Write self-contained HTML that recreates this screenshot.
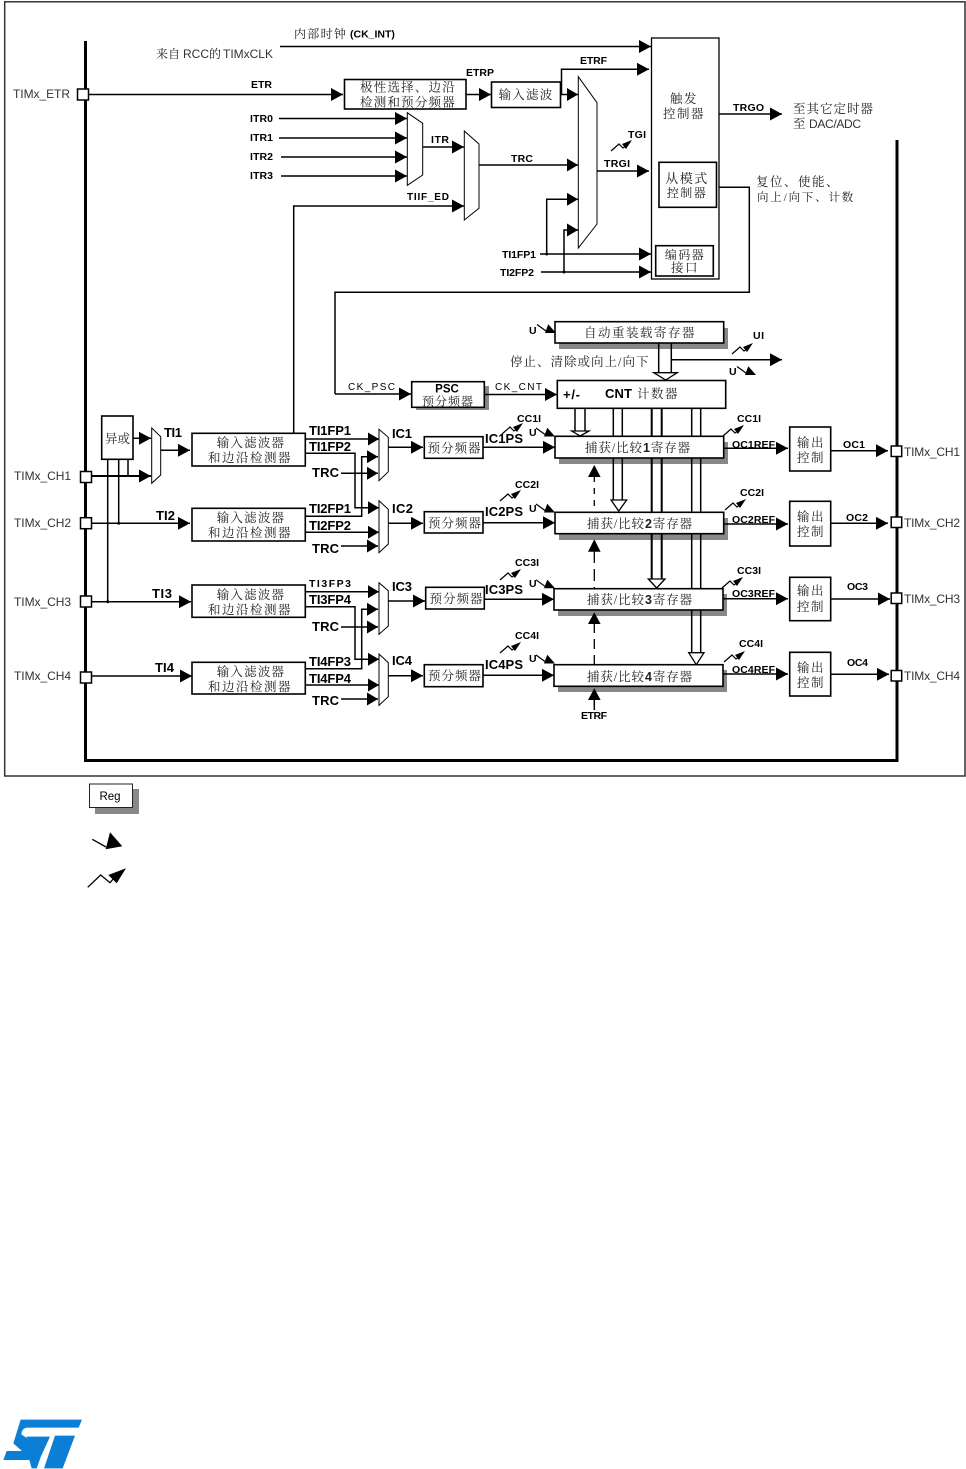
<!DOCTYPE html>
<html>
<head>
<meta charset="utf-8">
<style>
html,body{margin:0;padding:0;background:#fff}
svg{display:block}
.l{fill:none;stroke:#000;stroke-width:1.5}
.a{fill:none;stroke:#000;stroke-width:1.5;marker-end:url(#a)}
.s{fill:none;stroke:#000;stroke-width:1.5;marker-end:url(#b)}
.b{fill:#fff;stroke:#000;stroke-width:1.6}
.m{fill:#fff;stroke:#000;stroke-width:1}
.sh{fill:#888;stroke:none}
.p{fill:#fff;stroke:#000;stroke-width:1.5}
text{font-family:"Liberation Sans","Noto Sans CJK SC",sans-serif;fill:#000}
.c{font-family:"Liberation Serif","Noto Serif CJK SC",serif;font-size:12.5px;letter-spacing:1.5px;fill:#222}
.t{font-size:12px;fill:#333}
.n{font-weight:bold;font-size:10.5px}
.k{font-weight:bold;font-size:13px}
.e{font-weight:bold;font-size:13px}
.mid{text-anchor:middle}
</style>
</head>
<body>
<svg width="966" height="1469" viewBox="0 0 966 1469" xmlns="http://www.w3.org/2000/svg">
<defs>
<marker id="a" viewBox="0 0 12 13" refX="12" refY="6.5" markerWidth="12" markerHeight="13" markerUnits="userSpaceOnUse" orient="auto"><path d="M0,0L12,6.5L0,13Z" fill="#000"/></marker>
<marker id="b" viewBox="0 0 11 13" refX="11" refY="6.5" markerWidth="11" markerHeight="13" markerUnits="userSpaceOnUse" orient="auto"><path d="M0,0L11,6.5L0,13Z" fill="#000"/></marker>
<g id="irq"><path d="M0,11L8,4L12,8L15,6" fill="none" stroke="#000" stroke-width="1.2"/><path d="M21,0L11,4L15,9Z" fill="#000"/></g>
<g id="u"><path d="M-19,-8.5L-10,-2" fill="none" stroke="#000" stroke-width="1.2"/><path d="M-7.7,-8.7L0,0L-11,0Z" fill="#000"/></g>
</defs>

<!-- frame -->
<rect x="4.7" y="1.8" width="960.3" height="774.2" fill="none" stroke="#333" stroke-width="1.5"/>
<!-- bus -->
<path d="M85.5,41V760.5H897V140" fill="none" stroke="#000" stroke-width="3"/>

<!-- shadows -->
<rect class="sh" x="559" y="328" width="169" height="21"/>
<rect class="sh" x="416" y="386" width="73" height="24"/>
<rect class="sh" x="559" y="442" width="169" height="22"/>
<rect class="sh" x="559" y="518" width="169" height="22"/>
<rect class="sh" x="558" y="594" width="169" height="22"/>
<rect class="sh" x="558" y="670" width="169" height="22"/>

<!-- top lines -->
<path class="a" d="M280,46.5H651"/>
<path class="a" d="M88,94.5H343"/>
<path class="a" d="M466,94.5H491"/>
<path class="s" d="M561,94.5H578"/>
<path class="a" d="M561.5,94V69.3H649"/>
<path class="a" d="M279,118.5H407"/>
<path class="a" d="M279,138H407"/>
<path class="a" d="M281,157H407"/>
<path class="a" d="M281,176H407"/>
<path class="a" d="M423,147H464"/>
<path class="a" d="M293.7,433V206H464"/>
<path class="s" d="M479,165H578"/>
<path class="a" d="M597,171H649"/>
<path class="a" d="M540,254H651"/>
<path class="a" d="M541,272H651"/>
<path class="s" d="M546.7,254V199.3H578"/>
<path class="s" d="M564,272V230H578"/>
<circle cx="546.7" cy="254" r="1.5"/><circle cx="564" cy="272" r="1.5"/>
<path class="a" d="M719,114H782" stroke-width="2"/>
<path class="l" d="M716,187.3H749.3V292.3H335V394"/>
<path class="a" d="M335,394H411"/>
<path class="a" d="M484,394.5H557"/>
<path class="a" d="M671,359.7H782"/>

<!-- muxes -->
<path class="m" d="M407.3,112.7L422.7,123.3V175L407.3,185.3Z"/>
<path class="m" d="M464.3,131L479,144V208.3L464.3,220Z"/>
<path class="m" d="M578.3,76.7L597,102.7V224L578.3,248Z"/>
<path class="m" d="M151.7,428L160.7,436.7V475L151.7,483.3Z"/>
<path class="m" d="M379,429.3L388.3,437.3V471.7L379,480.7Z"/>
<path class="m" d="M379,500.7L388.3,509.3V544L379,552.7Z"/>
<path class="m" d="M379,582.7L388.3,590.7V626L379,634.3Z"/>
<path class="m" d="M379,654L388.3,662.7V696.7L379,705.3Z"/>

<!-- buses to registers -->
<path d="M658.7,343V373M671.3,343V373" class="l"/>
<path d="M653.7,372.7H677.3L665.7,380Z" fill="#fff" stroke="#000" stroke-width="1.3"/>
<path d="M575,408V431M585,408V431" class="l"/>
<path d="M571.7,431H589L580.3,436Z" fill="#fff" stroke="#000" stroke-width="1.3"/>
<path d="M613.3,408V500M622.3,408V500" class="l"/>
<path d="M611,500H626.7L618.7,511Z" fill="#fff" stroke="#000" stroke-width="1.3"/>
<path d="M651.7,408V579M661.7,408V579" class="l" style="stroke-width:2"/>
<path d="M648.3,579H665L656.7,588Z" fill="#fff" stroke="#000" stroke-width="1.3"/>
<path d="M691.7,408V653M700.7,408V653" class="l"/>
<path d="M688.7,652.7H704L696.3,664.7Z" fill="#fff" stroke="#000" stroke-width="1.3"/>

<!-- dashed -->
<path d="M594.3,476V512" fill="none" stroke="#000" stroke-width="1.3" stroke-dasharray="6,6"/>
<path d="M594.3,551V588" fill="none" stroke="#000" stroke-width="1.3" stroke-dasharray="12,6"/>
<path d="M594.3,623V664" fill="none" stroke="#000" stroke-width="1.3" stroke-dasharray="10,6"/>
<path d="M594.3,465L588,477H600.6Z M594.3,539.3L588,551.7H600.6Z M594.3,612.3L588,624H600.6Z M594.3,688.3L588,700H600.6Z"/>
<path class="l" d="M594.3,700V710"/>

<!-- left inputs -->
<path class="a" d="M133,438.3H151"/>
<path class="a" d="M91,476H151" style="stroke-width:2"/>
<path class="l" d="M107.7,459V601.7M118.7,459V523.3M128,459V477"/>
<circle cx="107.7" cy="601.7" r="1.5"/><circle cx="118.7" cy="523.3" r="1.5"/>
<path class="a" d="M161,450.3H190"/>
<path class="a" d="M91,523.3H190"/>
<path class="a" d="M91,601.7H191"/>
<path class="a" d="M91,676H192"/>

<!-- filter outputs -->
<path class="s" d="M305,439H379"/>
<path class="s" d="M305,453.3H355V507.7H379"/>
<path class="s" d="M341,473.3H378"/>
<path class="s" d="M305,516.3H361.7V456.7H378"/>
<path class="s" d="M305,532.3H379"/>
<path class="s" d="M341,546H378"/>
<path class="s" d="M305,591.7H379"/>
<path class="s" d="M305,606.7H355V659.3H379"/>
<path class="s" d="M341,627H378"/>
<path class="s" d="M305,668.7H361.7V609.3H378"/>
<path class="s" d="M305,685H379"/>
<path class="s" d="M341,699H378"/>

<!-- IC lines -->
<path class="a" d="M388,447.3H423"/>
<path class="a" d="M388,523.3H423"/>
<path class="a" d="M388,601H425"/>
<path class="a" d="M388,675.7H423"/>
<path class="a" d="M483,447.3H555"/>
<path class="a" d="M483,522.7H555"/>
<path class="a" d="M484,599.3H554"/>
<path class="a" d="M483,675.3H554"/>

<!-- outputs -->
<path class="a" d="M724,448.3H788"/>
<path class="a" d="M724,524H788"/>
<path class="a" d="M723,598.7H788"/>
<path class="a" d="M723,674H788"/>
<path class="a" d="M831,450.7H888"/>
<path class="a" d="M831,523.3H888"/>
<path class="a" d="M831,599H890"/>
<path class="a" d="M831,674.3H889"/>

<!-- boxes -->
<rect class="b" x="344.5" y="79.5" width="121.5" height="29.5"/>
<rect class="b" x="491.5" y="82" width="69" height="25.5"/>
<rect x="651.5" y="38" width="67.5" height="241" fill="#fff" stroke="#000" stroke-width="1.3"/>
<rect class="b" x="659" y="162.3" width="57.5" height="45"/>
<rect class="b" x="655.7" y="245.7" width="57.6" height="30.3"/>
<rect class="b" x="555" y="321.7" width="168.7" height="21.3"/>
<rect class="b" x="557.3" y="380.5" width="168.4" height="27.8"/>
<rect class="b" x="411.7" y="381.7" width="72.6" height="25.6"/>
<rect class="b" x="555" y="436.3" width="168.7" height="21.7"/>
<rect class="b" x="555" y="512.3" width="168.7" height="21.4"/>
<rect class="b" x="554" y="588.7" width="169" height="21.3"/>
<rect class="b" x="554" y="664.7" width="169" height="21.6"/>
<rect class="b" x="101.7" y="416" width="31.3" height="43.3"/>
<rect class="b" x="192" y="433.3" width="113.3" height="32.7"/>
<rect class="b" x="192" y="508.3" width="113.3" height="32.7"/>
<rect class="b" x="192" y="585" width="113.3" height="32.3"/>
<rect class="b" x="192" y="662.3" width="113.3" height="31.7"/>
<rect class="b" x="424.3" y="436.7" width="58.7" height="21.6"/>
<rect class="b" x="424.3" y="511.7" width="58.7" height="21.3"/>
<rect class="b" x="425.7" y="587.3" width="58.6" height="21.7"/>
<rect class="b" x="424.3" y="664.7" width="58.7" height="22"/>
<rect class="b" x="789.7" y="427" width="41" height="44"/>
<rect class="b" x="789.7" y="501.3" width="41" height="44.7"/>
<rect class="b" x="789.7" y="577.3" width="41" height="43.4"/>
<rect class="b" x="789.7" y="652.3" width="41" height="43.7"/>

<!-- pins -->
<rect class="p" x="77.5" y="89" width="11" height="11"/>
<rect class="p" x="80.5" y="471.5" width="11" height="11"/>
<rect class="p" x="80.5" y="517.7" width="11" height="11"/>
<rect class="p" x="80.5" y="596" width="11" height="11"/>
<rect class="p" x="80.5" y="672" width="11" height="11"/>
<rect class="p" x="891.2" y="446" width="10.5" height="10.5"/>
<rect class="p" x="891.2" y="517" width="10.5" height="10.5"/>
<rect class="p" x="891.2" y="593" width="10.5" height="10.5"/>
<rect class="p" x="891.2" y="670.5" width="10.5" height="10.5"/>

<!-- irq icons -->
<use href="#irq" x="611" y="140"/>
<use href="#irq" x="732" y="343"/>
<use href="#irq" x="502" y="423"/>
<use href="#irq" x="500" y="490"/>
<use href="#irq" x="500" y="569"/>
<use href="#irq" x="500" y="642"/>
<use href="#irq" x="723" y="425"/>
<use href="#irq" x="725" y="499"/>
<use href="#irq" x="722" y="577"/>
<use href="#irq" x="724" y="651"/>
<use href="#u" x="556" y="333"/>
<use href="#u" x="756" y="375"/>
<use href="#u" x="555" y="436.5"/>
<use href="#u" x="555" y="512.5"/>
<use href="#u" x="555" y="588.3"/>
<use href="#u" x="555" y="663.5"/>

<!-- text top -->
<text class="c" x="294" y="38" style="font-size:12px;letter-spacing:1.3px">内部时钟</text>
<text class="k" x="350" y="37.5" style="font-size:10.5px">(CK_INT)</text>
<text class="c" x="156" y="58" style="font-size:12px;letter-spacing:0">来自</text>
<text class="t" x="183" y="58">RCC</text>
<text class="c" x="209" y="58" style="font-size:12px;letter-spacing:0">的</text>
<text class="t" x="223" y="58" textLength="50">TIMxCLK</text>
<text class="t" x="13" y="98" textLength="57">TIMx_ETR</text>
<text class="n" x="251" y="88" textLength="21">ETR</text>
<text class="c mid" x="408" y="91.5" style="letter-spacing:1.2px">极性选择、边沿</text>
<text class="c mid" x="408" y="106.5" style="letter-spacing:1.2px">检测和预分频器</text>
<text class="n" x="466" y="76" textLength="28">ETRP</text>
<text class="c mid" x="526" y="99" style="letter-spacing:1.2px">输入滤波</text>
<text class="n" x="580" y="64" textLength="27">ETRF</text>
<text class="n" x="250" y="122" textLength="23">ITR0</text>
<text class="n" x="250" y="141" textLength="23">ITR1</text>
<text class="n" x="250" y="160" textLength="23">ITR2</text>
<text class="n" x="250" y="179" textLength="23">ITR3</text>
<text class="n" x="431" y="143" textLength="18">ITR</text>
<text class="n" x="407" y="200" textLength="42" style="font-size:10px">TIIF_ED</text>
<text class="n" x="511" y="162" textLength="22">TRC</text>
<text class="n" x="604" y="167" textLength="26">TRGI</text>
<text class="n" x="628" y="138" textLength="18">TGI</text>
<text class="n" x="502" y="258" textLength="34">TI1FP1</text>
<text class="n" x="500" y="276" textLength="34">TI2FP2</text>
<text class="c mid" x="684" y="103">触发</text>
<text class="c mid" x="684" y="118">控制器</text>
<text class="c mid" x="687" y="183" style="font-size:13px">从模式</text>
<text class="c mid" x="687" y="197" style="font-size:12px">控制器</text>
<text class="c mid" x="685" y="259" style="font-size:12px">编码器</text>
<text class="c mid" x="685" y="272" style="font-size:12.5px">接口</text>
<text class="n" x="733" y="111" textLength="31">TRGO</text>
<text class="c" x="793" y="113" style="letter-spacing:1px">至其它定时器</text>
<text class="c" x="793" y="128">至</text>
<text class="t" x="809" y="128" textLength="52">DAC/ADC</text>
<text class="c" x="756" y="186">复位、使能、</text>
<text class="c" x="757" y="201" style="font-size:11.5px;letter-spacing:1.8px">向上/向下、计数</text>

<text class="c mid" x="640" y="337">自动重装载寄存器</text>
<text class="n" x="529" y="334">U</text>
<text class="n" x="753" y="339" textLength="11">UI</text>
<text class="n" x="729" y="375">U</text>
<text class="c" x="510" y="366" style="letter-spacing:1px">停止、清除或向上/向下</text>
<text x="348" y="390" font-size="10" textLength="47">CK_PSC</text>
<text x="495" y="390" font-size="10" textLength="47">CK_CNT</text>
<text class="k mid" x="447" y="392.5" style="font-size:11.5px">PSC</text>
<text class="c mid" x="448" y="405.5" style="font-size:12px;letter-spacing:1px">预分频器</text>
<text class="e" x="563" y="399" textLength="17">+/-</text>
<text class="e" x="605" y="398" textLength="27">CNT</text>
<text class="c" x="637" y="398">计数器</text>

<!-- left labels -->
<text class="t" x="14" y="480" textLength="57">TIMx_CH1</text>
<text class="t" x="14" y="527" textLength="57">TIMx_CH2</text>
<text class="t" x="14" y="606" textLength="57">TIMx_CH3</text>
<text class="t" x="14" y="680" textLength="57">TIMx_CH4</text>
<text class="c mid" x="117.5" y="443" style="letter-spacing:0">异或</text>
<text class="k" x="164" y="437" textLength="18">TI1</text>
<text class="k" x="156" y="520" textLength="19">TI2</text>
<text class="k" x="152" y="598" textLength="20">TI3</text>
<text class="k" x="155" y="672" textLength="19">TI4</text>
<text class="c mid" x="251" y="447" style="letter-spacing:1.2px">输入滤波器</text>
<text class="c mid" x="250" y="462">和边沿检测器</text>
<text class="c mid" x="251" y="522" style="letter-spacing:1.2px">输入滤波器</text>
<text class="c mid" x="250" y="537">和边沿检测器</text>
<text class="c mid" x="251" y="599" style="letter-spacing:1.2px">输入滤波器</text>
<text class="c mid" x="250" y="614">和边沿检测器</text>
<text class="c mid" x="251" y="676" style="letter-spacing:1.2px">输入滤波器</text>
<text class="c mid" x="250" y="691">和边沿检测器</text>
<text class="k" x="309" y="435" textLength="42">TI1FP1</text>
<text class="k" x="309" y="451" textLength="42">TI1FP2</text>
<text class="k" x="312" y="477" textLength="27">TRC</text>
<text class="k" x="309" y="513" textLength="42">TI2FP1</text>
<text class="k" x="309" y="530" textLength="42">TI2FP2</text>
<text class="k" x="312" y="553" textLength="27">TRC</text>
<text class="n" x="309" y="587" textLength="42">TI3FP3</text>
<text class="k" x="309" y="604" textLength="42">TI3FP4</text>
<text class="k" x="312" y="631" textLength="27">TRC</text>
<text class="k" x="309" y="666" textLength="42">TI4FP3</text>
<text class="k" x="309" y="683" textLength="42">TI4FP4</text>
<text class="k" x="312" y="705" textLength="27">TRC</text>
<text class="k" x="392" y="438" textLength="20">IC1</text>
<text class="k" x="392" y="513" textLength="21">IC2</text>
<text class="k" x="392" y="591" textLength="20">IC3</text>
<text class="k" x="392" y="665" textLength="20">IC4</text>
<text class="c mid" x="454.5" y="452.5" style="letter-spacing:1px">预分频器</text>
<text class="c mid" x="455" y="527.5" style="letter-spacing:1px">预分频器</text>
<text class="c mid" x="456.5" y="603" style="letter-spacing:1px">预分频器</text>
<text class="c mid" x="455" y="680" style="letter-spacing:1px">预分频器</text>
<text class="k" x="485" y="443" textLength="38">IC1PS</text>
<text class="k" x="485" y="516" textLength="38">IC2PS</text>
<text class="k" x="485" y="594" textLength="38">IC3PS</text>
<text class="k" x="485" y="669" textLength="38">IC4PS</text>
<text class="n" x="517" y="422" textLength="24">CC1I</text>
<text class="n" x="515" y="488" textLength="24">CC2I</text>
<text class="n" x="515" y="566" textLength="24">CC3I</text>
<text class="n" x="515" y="639" textLength="24">CC4I</text>
<text class="n" x="529" y="436">U</text>
<text class="n" x="529" y="512">U</text>
<text class="n" x="529" y="587">U</text>
<text class="n" x="529" y="662">U</text>
<text class="n" x="737" y="422" textLength="24">CC1I</text>
<text class="n" x="740" y="496" textLength="24">CC2I</text>
<text class="n" x="737" y="574" textLength="24">CC3I</text>
<text class="n" x="739" y="647" textLength="24">CC4I</text>
<text class="c mid" x="638" y="452" style="letter-spacing:.9px"><tspan>捕获/比较</tspan><tspan font-family="Liberation Sans" font-weight="bold">1</tspan><tspan>寄存器</tspan></text>
<text class="c mid" x="640" y="528" style="letter-spacing:.9px"><tspan>捕获/比较</tspan><tspan font-family="Liberation Sans" font-weight="bold">2</tspan><tspan>寄存器</tspan></text>
<text class="c mid" x="640" y="604" style="letter-spacing:.9px"><tspan>捕获/比较</tspan><tspan font-family="Liberation Sans" font-weight="bold">3</tspan><tspan>寄存器</tspan></text>
<text class="c mid" x="640" y="681" style="letter-spacing:.9px"><tspan>捕获/比较</tspan><tspan font-family="Liberation Sans" font-weight="bold">4</tspan><tspan>寄存器</tspan></text>
<text class="n" x="581" y="719" textLength="26">ETRF</text>
<text class="n" x="732" y="448" textLength="43">OC1REF</text>
<text class="n" x="732" y="523" textLength="43">OC2REF</text>
<text class="n" x="732" y="597" textLength="43">OC3REF</text>
<text class="n" x="732" y="673" textLength="43">OC4REF</text>
<text class="c mid" x="811" y="447">输出</text>
<text class="c mid" x="811" y="462">控制</text>
<text class="c mid" x="811" y="521">输出</text>
<text class="c mid" x="811" y="536">控制</text>
<text class="c mid" x="811" y="595">输出</text>
<text class="c mid" x="811" y="611">控制</text>
<text class="c mid" x="811" y="672">输出</text>
<text class="c mid" x="811" y="687">控制</text>
<text class="n" x="843" y="448" textLength="22">OC1</text>
<text class="n" x="846" y="521" textLength="22">OC2</text>
<text class="n" x="847" y="590" textLength="21">OC3</text>
<text class="n" x="847" y="666" textLength="21">OC4</text>
<text class="t" x="904" y="456" textLength="56">TIMx_CH1</text>
<text class="t" x="904" y="527" textLength="56">TIMx_CH2</text>
<text class="t" x="904" y="603" textLength="56">TIMx_CH3</text>
<text class="t" x="904" y="680" textLength="56">TIMx_CH4</text>

<!-- legend -->
<rect x="95" y="789" width="44" height="25" fill="#888"/>
<rect x="89.5" y="784" width="43" height="23.5" fill="#fff" stroke="#222" stroke-width="1"/>
<text x="110" y="800" font-size="11.5" text-anchor="middle" fill="#222">Reg</text>
<path d="M92.3,839.3L106,847" fill="none" stroke="#000" stroke-width="1.3"/>
<path d="M110,832.3L122.3,846.3L105.7,849.3Z" fill="#000"/>
<path d="M87.7,887.3L100.7,875L110,882.7L114,878" fill="none" stroke="#000" stroke-width="1.3"/>
<path d="M126,868.3L108.3,875L116.7,883.3Z" fill="#000"/>

<!-- logo -->
<g transform="translate(0,1415) scale(.3333)" fill="#0b7fd6">
<path d="M62,14H246L236,38H84C70,38 66,46 64,58L118,95C128,102 128,110 125,118L110,160H95L88,135H10L20,108H66L40,85Z"/>
<path d="M78,65H150L124,122Z"/>
<path d="M165,62H225L188,160H132Z"/>
</g>
</svg>
</body>
</html>
